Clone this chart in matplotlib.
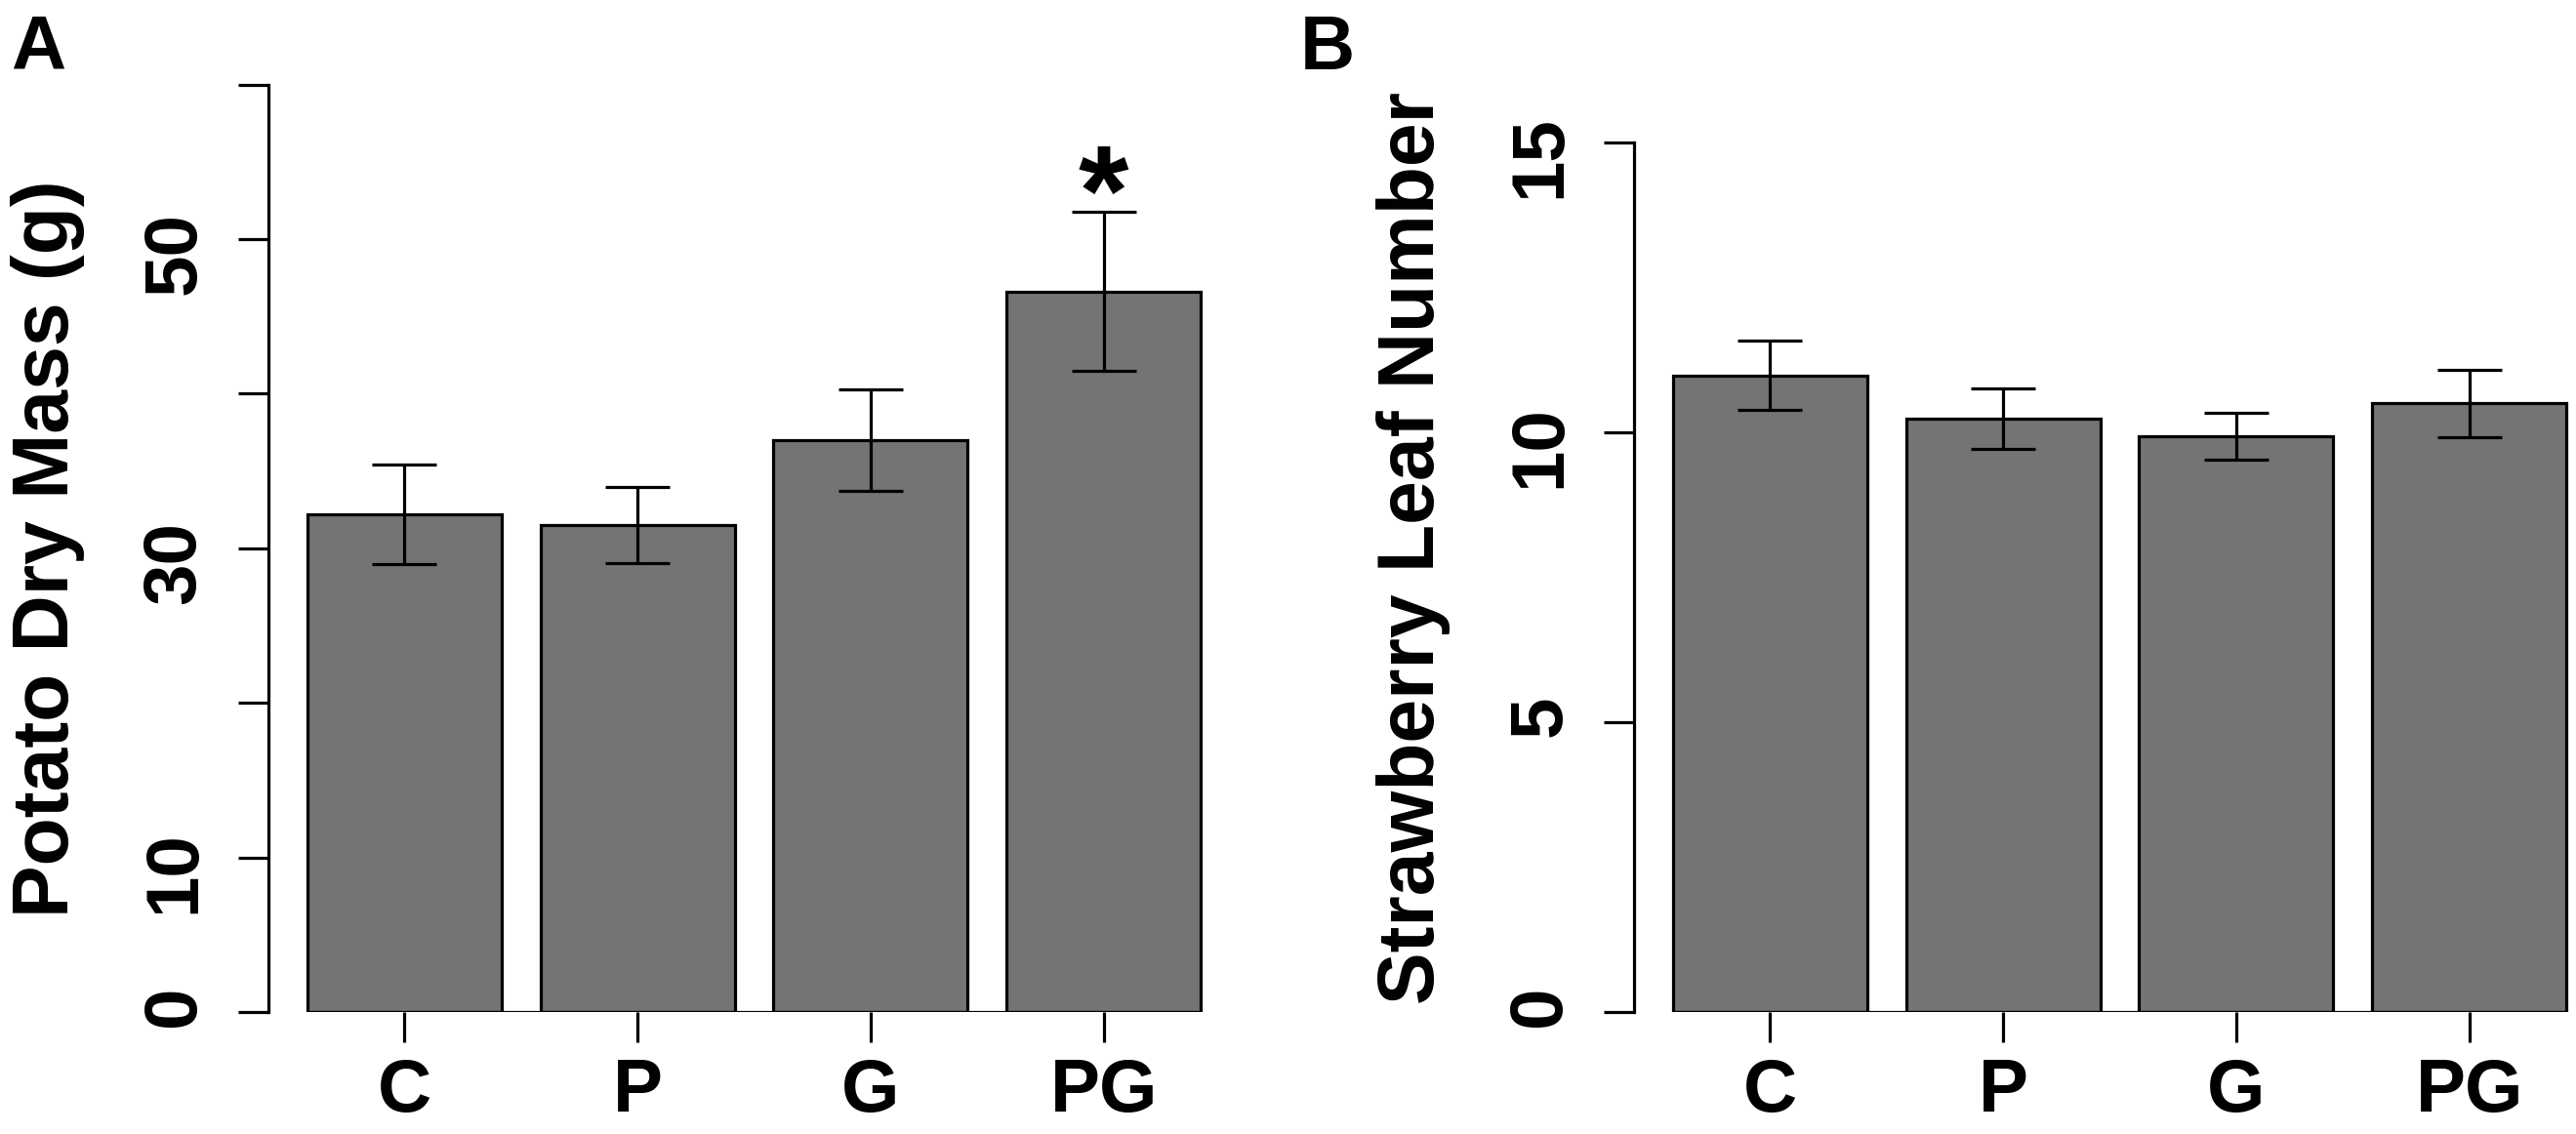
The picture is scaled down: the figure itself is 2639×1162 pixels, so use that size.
import numpy as np
import matplotlib.pyplot as plt

plt.rcParams['font.family'] = ['Liberation Sans', 'DejaVu Sans']
plt.rcParams['font.weight'] = 'bold'

# data
groups = ['C', 'P', 'G', 'PG']
potato_mass = [32.2, 31.5, 37.0, 46.6]
potato_se = [3.2, 2.45, 3.3, 5.15]
straw_leaves = [10.98, 10.23, 9.93, 10.50]
straw_se = [0.60, 0.52, 0.41, 0.58]
potato_ticks = [0, 10, 20, 30, 40, 50, 60]
potato_ticklabels = ['0', '10', '', '30', '', '50', '']
straw_ticks = [0, 5, 10, 15]
potato_signif = ['', '', '', '*']

W, H = 2639, 1162
fig = plt.figure(figsize=(W / 100, H / 100), dpi=100)

pos = np.array([0.7, 1.9, 3.1, 4.3])
bw = 1.0
px_per_unit = 199
xmax = 4.82
ax_w = xmax * px_per_unit
ax_bottom = (H - 1037) / H
ax_h = (1037 - 86.5) / H

bar_col = '#747474'
lw = 2.3
tick_fs = 55
lab_fs = 58


def panel(ax, vals, errs, ylim, ticks, ticklabels, bound, ylabel):
    ax.bar(pos, vals, width=bw, color=bar_col, edgecolor='black', linewidth=lw, zorder=2)
    ax.hlines(0, pos[0] - bw / 2, pos[-1] + bw / 2, color='black', linewidth=lw, zorder=3)
    ax.errorbar(pos, vals, yerr=errs, fmt='none', ecolor='black',
                elinewidth=lw, capsize=24, capthick=lw, zorder=4)
    ax.set_xlim(0, xmax)
    ax.set_ylim(*ylim)
    for s in ['top', 'right', 'bottom']:
        ax.spines[s].set_visible(False)
    ax.spines['left'].set_bounds(*bound)
    ax.spines['left'].set_linewidth(lw)
    ax.set_yticks(ticks)
    ax.set_yticklabels(ticklabels, rotation=90, fontsize=tick_fs, fontweight='bold')
    ax.tick_params(axis='y', length=22, width=lw, pad=21)
    ax.set_xticks(pos)
    ax.set_xticklabels(groups, fontsize=tick_fs, fontweight='bold')
    ax.tick_params(axis='x', length=22, width=lw, pad=12)
    ax.set_ylabel(ylabel, fontsize=lab_fs, fontweight='bold')
    ax.yaxis.set_label_coords(-188 / ax_w, 0.5)


axA = fig.add_axes([275 / W, ax_bottom, ax_w / W, ax_h])
panel(axA, potato_mass, potato_se, (0, 60), potato_ticks, potato_ticklabels,
      (0, 60), 'Potato Dry Mass (g)')
for x, v, e, s in zip(pos, potato_mass, potato_se, potato_signif):
    if s:
        axA.text(x, v + e - 1.5, s, ha='center', va='baseline',
                 fontsize=95, fontweight='bold')

axB = fig.add_axes([1674 / W, ax_bottom, ax_w / W, ax_h])
panel(axB, straw_leaves, straw_se, (0, 16), straw_ticks,
      [str(t) for t in straw_ticks], (0, 15), 'Strawberry Leaf Number')

fig.text(11 / W, 1 - 14 / H, 'A', fontsize=56, fontweight='bold', ha='left', va='top')
fig.text(1332 / W, 1 - 14 / H, 'B', fontsize=56, fontweight='bold', ha='left', va='top')

fig.savefig('out.png', dpi=100)
